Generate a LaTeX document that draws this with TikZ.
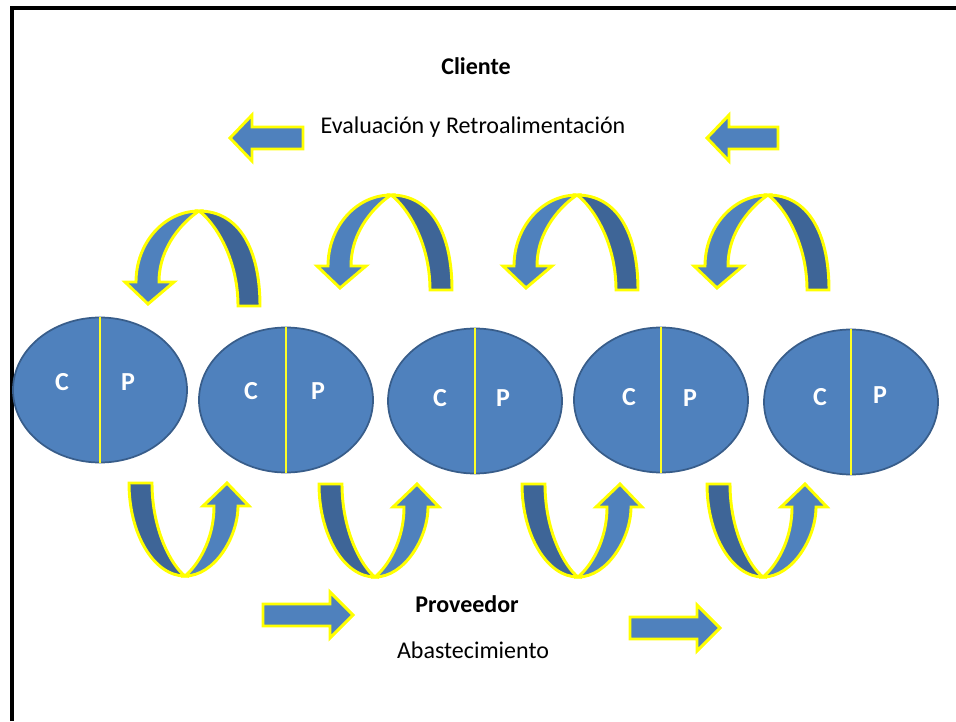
\documentclass[tikz,border=0pt]{standalone}
\usepackage{fontspec}
\setmainfont{Carlito}
\usetikzlibrary{shapes.geometric}
\definecolor{bandlight}{HTML}{4F81BD}
\definecolor{banddark}{HTML}{3E6597}
\definecolor{rimblue}{HTML}{385D8A}
\definecolor{rimyellow}{HTML}{FFFF00}

% curved arrow over the ellipses, origin at its apex
\newcommand{\archover}[2]{%
  \begin{scope}[shift={(#1,#2)}]
    \path[bandshape,fill=banddark]
      (39,95) .. controls (39,45) and (14,10) .. (0,0)
      .. controls (40,0) and (61,38) .. (61,95) -- cycle;
    \path[bandshape,fill=bandlight]
      (-63,71) .. controls (-63,31.8) and (-34.8,0) .. (0,0)
      .. controls (-15,10) and (-40,35) .. (-40,71)
      -- (-25,71) -- (-51,93) -- (-74,71) -- cycle;
  \end{scope}}

% curved arrow under the ellipses, origin at its lowest point
\newcommand{\archunder}[2]{%
  \begin{scope}[shift={(#1,#2)}]
    \path[bandshape,fill=banddark]
      (-56,-93) .. controls (-56,-41.6) and (-30.9,0) .. (0,0)
      .. controls (-13,-10) and (-33,-45) .. (-33,-93) -- cycle;
    \path[bandshape,fill=bandlight]
      (0,0) .. controls (29.3,0) and (53,-38.7) .. (53,-70)
      -- (64,-70) -- (42,-93) -- (18,-70) -- (29,-70)
      .. controls (29,-35) and (12,-10) .. (0,0) -- cycle;
  \end{scope}}

\begin{document}
\begin{tikzpicture}[x=0.75pt,y=-0.75pt,
    bandshape/.style={draw=rimyellow,line width=2.2pt},
    cell/.style={ellipse,draw=rimblue,line width=1.3pt,fill=bandlight,
      minimum width=130.5pt,minimum height=108.75pt,inner sep=0pt},
    divider/.style={draw=rimyellow!85!white,line width=0.8pt},
    cp/.style={text=white,font=\bfseries\fontsize{19.5}{22}\selectfont},
    caption/.style={font=\fontsize{18}{21}\selectfont},
    heading/.style={font=\bfseries\fontsize{18}{21}\selectfont}]
  \useasboundingbox (0,0) rectangle (956,721);

  % frame
  \draw[line width=3pt] (12,721) -- (12,7.5) -- (956,7.5);

  % texts
  \node[heading] (cliente) at (476,66) {Cliente};
  \node[caption] (evaluacion) at (473,127) {Evaluación y Retroalimentación};
  \node[heading] (proveedor) at (467,604) {Proveedor};
  \node[caption] (abastecimiento) at (473,650) {Abastecimiento};

  % straight arrows
  \path[bandshape,fill=bandlight] (303,127) -- (252,127) -- (252,115) -- (230,138)
    -- (252,161) -- (252,149) -- (303,149) -- cycle;
  \path[bandshape,fill=bandlight] (778,127) -- (729,127) -- (729,115) -- (707,138)
    -- (729,161) -- (729,149) -- (778,149) -- cycle;
  \path[bandshape,fill=bandlight] (263,604) -- (330,604) -- (330,592) -- (353,615)
    -- (330,638) -- (330,626) -- (263,626) -- cycle;
  \path[bandshape,fill=bandlight] (630,617) -- (697,617) -- (697,605) -- (720,628)
    -- (697,651) -- (697,639) -- (630,639) -- cycle;

  % curved arrows
  \archover{199}{211}
  \archover{391}{195}
  \archover{577}{195}
  \archover{768}{195}
  \archunder{185}{576}
  \archunder{375}{577}
  \archunder{578}{577}
  \archunder{763}{577}

  % cells
  \node[cell] (e1) at (100,390) {};
  \node[cell] (e2) at (286,400) {};
  \node[cell] (e3) at (475,401) {};
  \node[cell] (e4) at (661,400) {};
  \node[cell] (e5) at (851,402) {};
  \foreach \e in {e1,e2,e3,e4,e5}
    \draw[divider] (\e.north) -- (\e.south);

  \node[cp] (c1) at (62,382) {C};  \node[cp] (p1) at (128,382) {P};
  \node[cp] (c2) at (251,391) {C}; \node[cp] (p2) at (318,391) {P};
  \node[cp] (c3) at (440,398) {C}; \node[cp] (p3) at (503,398) {P};
  \node[cp] (c4) at (629,397) {C}; \node[cp] (p4) at (690,398) {P};
  \node[cp] (c5) at (820,397) {C}; \node[cp] (p5) at (880,395) {P};
\end{tikzpicture}
\end{document}
